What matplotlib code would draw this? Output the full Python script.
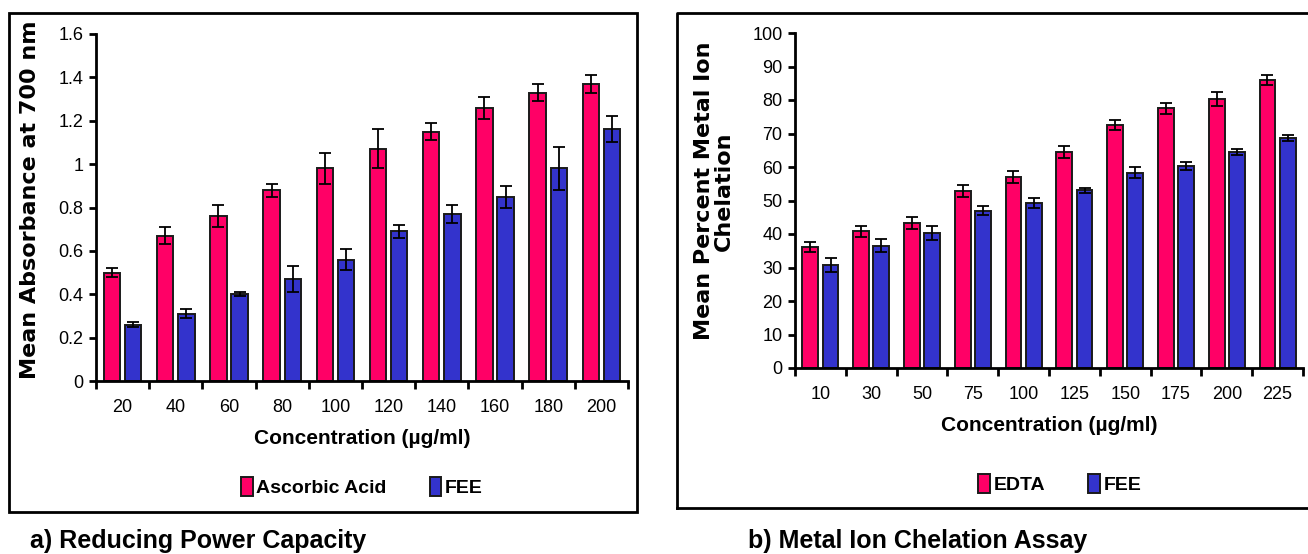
import numpy as np
import matplotlib.pyplot as plt
from matplotlib.patches import Rectangle
from matplotlib.lines import Line2D

plt.rcParams['font.family'] = ['Liberation Sans', 'DejaVu Sans']

# a) reducing power
conc_a = ['20', '40', '60', '80', '100', '120', '140', '160', '180', '200']
ascorbic = [0.50, 0.67, 0.76, 0.88, 0.98, 1.07, 1.15, 1.26, 1.33, 1.37]
ascorbic_err = [0.02, 0.04, 0.05, 0.03, 0.07, 0.09, 0.04, 0.05, 0.04, 0.04]
fee_a = [0.26, 0.31, 0.40, 0.47, 0.56, 0.69, 0.77, 0.85, 0.98, 1.16]
fee_a_err = [0.01, 0.02, 0.01, 0.06, 0.05, 0.03, 0.04, 0.05, 0.10, 0.06]

# b) metal ion chelation
conc_b = ['10', '30', '50', '75', '100', '125', '150', '175', '200', '225']
edta = [36.0, 40.8, 43.3, 52.8, 57.0, 64.5, 72.5, 77.5, 80.3, 86.0]
edta_err = [1.5, 1.7, 1.8, 1.7, 1.7, 1.7, 1.5, 1.7, 2.0, 1.6]
fee_b = [30.8, 36.5, 40.3, 47.0, 49.3, 53.0, 58.3, 60.3, 64.5, 68.7]
fee_b_err = [2.0, 2.0, 2.0, 1.3, 1.5, 0.8, 1.7, 1.3, 1.0, 1.0]

PINK = '#ff0066'
BLUE = '#3333cc'
W, H = 1308, 554

fig = plt.figure(figsize=(W / 100, H / 100), dpi=100)


def fx(px):
    return px / W


def fy(py):
    return 1 - py / H


def panel(rect, cats, s1, e1, s2, e2, ylim, yticks, yfmt, ylabel, labels, leg_xy, ylab_xy):
    ax = fig.add_axes(rect)
    x = np.arange(len(cats))
    bw, off = 0.31, 0.2
    ekw = dict(ecolor='black', elinewidth=1.3, capsize=4, capthick=1.3)
    ax.bar(x - off, s1, bw, yerr=e1, color=PINK, edgecolor='#1a1a1a', linewidth=1.4,
           error_kw=ekw, label=labels[0], zorder=2)
    ax.bar(x + off, s2, bw, yerr=e2, color=BLUE, edgecolor='#1a1a1a', linewidth=1.4,
           error_kw=ekw, label=labels[1], zorder=2)
    ax.set_xlim(-0.5, len(cats) - 0.5)
    ax.set_ylim(*ylim)
    ax.set_yticks(yticks)
    ax.set_yticklabels([yfmt(v) for v in yticks], fontsize=13)
    ax.set_xticks(x)
    ax.set_xticklabels(cats, fontsize=13)
    ax.tick_params(axis='x', which='major', length=0, pad=13)
    ax.set_xticks(np.arange(len(cats) + 1) - 0.5, minor=True)
    ax.tick_params(axis='x', which='minor', length=6, width=2, direction='out')
    ax.tick_params(axis='y', length=5, width=2, direction='out', pad=4)
    for s in ['top', 'right']:
        ax.spines[s].set_visible(False)
    for s in ['left', 'bottom']:
        ax.spines[s].set_linewidth(2)
    ax.set_xlabel('Concentration (µg/ml)', fontsize=15, fontweight='bold', labelpad=9)
    fig.text(ylab_xy[0], ylab_xy[1], ylabel, rotation=90, ha='center', va='center',
             fontsize=16, fontweight='bold', family='DejaVu Sans', linespacing=1.0)
    h = [Rectangle((0, 0), 1, 1, facecolor=PINK, edgecolor='#1a1a1a', lw=1.4),
         Rectangle((0, 0), 1, 1, facecolor=BLUE, edgecolor='#1a1a1a', lw=1.4)]
    fig.legend(h, labels, loc='center', bbox_to_anchor=leg_xy, ncol=2, frameon=False,
               handlelength=0.6, handleheight=1.1, handletextpad=0.2, columnspacing=2.2,
               prop=dict(size=14, weight='bold'))
    return ax


panel([fx(96), fy(381), fx(628) - fx(96), fy(34) - fy(381)], conc_a,
      ascorbic, ascorbic_err, fee_a, fee_a_err, (0, 1.6), np.arange(0, 1.61, 0.2),
      lambda v: '0' if v == 0 else ('1' if abs(v - 1) < 1e-9 else f'{v:.1f}'),
      'Mean Absorbance at 700 nm', ['Ascorbic Acid', 'FEE'], (fx(362), fy(487)),
      (fx(30), fy(200)))

panel([fx(795), fy(368), fx(1303) - fx(795), fy(33) - fy(368)], conc_b,
      edta, edta_err, fee_b, fee_b_err, (0, 100), np.arange(0, 101, 10),
      lambda v: f'{v:.0f}',
      'Mean Percent Metal Ion\nChelation', ['EDTA', 'FEE'], (fx(1060), fy(484)),
      (fx(714), fy(191)))

# panel frames
fig.add_artist(Rectangle((fx(9), fy(512)), fx(637) - fx(9), fy(13) - fy(512),
                         transform=fig.transFigure, fill=False, lw=2, ec='black'))
fig.add_artist(Line2D([fx(677), fx(677), 1.0], [fy(508), fy(13), fy(13)],
                      transform=fig.transFigure, lw=2, color='black'))
fig.add_artist(Line2D([fx(677), 1.0], [fy(508), fy(508)],
                      transform=fig.transFigure, lw=2, color='black'))

fig.text(fx(30), fy(541), 'a) Reducing Power Capacity', fontsize=18, fontweight='bold',
         va='center')
fig.text(fx(748), fy(541), 'b) Metal Ion Chelation Assay', fontsize=18, fontweight='bold',
         va='center')

fig.savefig('out.png', dpi=100)
